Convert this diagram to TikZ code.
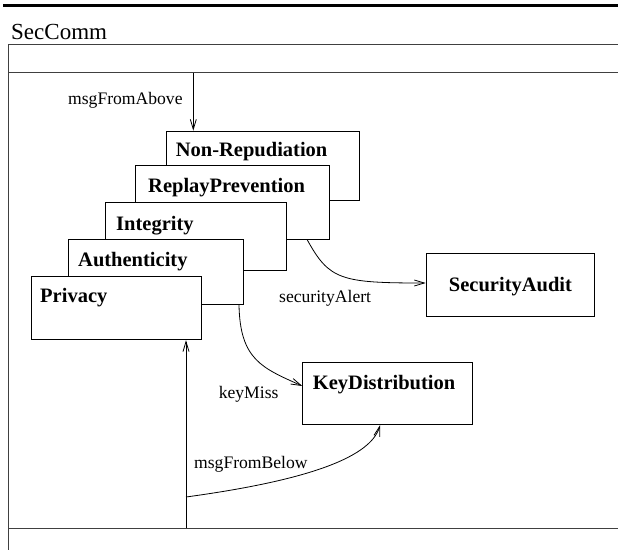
\documentclass[tikz,border=0pt]{standalone}
\usepackage{fontspec}
\setmainfont{Liberation Serif}
\usetikzlibrary{arrows.meta,calc}
\begin{document}
\begin{tikzpicture}[x=1pt,y=-1pt,
  frameline/.style={line width=1.4pt, draw=black!75},
  layerbox/.style={draw=black, line width=0.9pt, fill=white, rectangle,
    inner sep=0pt, anchor=north west},
  boxtitle/.style={font=\bfseries\fontsize{20.5}{24}\selectfont,
    anchor=base west, inner sep=0pt},
  msglabel/.style={font=\fontsize{17.6}{21}\selectfont,
    anchor=base west, inner sep=0pt},
  flow/.style={line width=0.8pt, -{Straight Barb[length=10pt,width=6pt]}}
]
\useasboundingbox (0,0) rectangle (618,550);

% heading rule and package name
\draw[line width=3pt] (3,5.3) -- (618,5.3);
\node[font=\fontsize{23}{27}\selectfont, anchor=base west, inner sep=0pt]
  (pkg) at (11,39.3) {SecComm};

% package frame with its upper and lower compartments
\coordinate (ftl) at (8.3,44.5);
\coordinate (ftr) at (618,44.5);
\coordinate (fbl) at (8.3,550);
\coordinate (ul) at (8.3,72.5);
\coordinate (ur) at (618,72.5);
\coordinate (ll) at (8.3,528.3);
\coordinate (lr) at (618,528.3);
\draw[frameline] (ftr) -- (ftl) -- (fbl);
\draw[frameline] (ul) -- (ur);
\draw[frameline] (ll) -- (lr);

% stacked protocol layers, back to front
\node[layerbox, minimum width=193.3pt, minimum height=69.3pt]
  (nonrep) at (165.7,130.7) {};
\node[boxtitle] (nonrepT) at ($(nonrep.north west)+(10,25.3)$) {Non-Repudiation};

\node[layerbox, minimum width=194pt, minimum height=74pt]
  (replay) at (135,165) {};
\node[boxtitle] (replayT) at ($(replay.north west)+(13,27.7)$) {ReplayPrevention};

\node[layerbox, minimum width=181pt, minimum height=68.3pt]
  (integ) at (105,201.7) {};
\node[boxtitle] (integT) at ($(integ.north west)+(11,28.3)$) {Integrity};

\node[layerbox, minimum width=175pt, minimum height=65pt]
  (auth) at (67.7,239) {};
\node[boxtitle] (authT) at ($(auth.north west)+(10.3,27.7)$) {Authenticity};

\node[layerbox, minimum width=170.6pt, minimum height=63.3pt]
  (priv) at (30.7,276) {};
\node[boxtitle] (privT) at ($(priv.north west)+(9.3,26.7)$) {Privacy};

% side components
\node[layerbox, minimum width=168.6pt, minimum height=62.7pt]
  (audit) at (425.7,253.3) {};
\node[boxtitle, anchor=base] (auditT) at ($(audit.north)+(0,37.7)$) {SecurityAudit};

\node[layerbox, minimum width=169.4pt, minimum height=62.3pt]
  (keydist) at (302.3,362) {};
\node[boxtitle] (keydistT) at ($(keydist.north west)+(10.4,27.3)$) {KeyDistribution};

% message flows
\coordinate (above) at (193.3,72.5);
\draw[flow] (above) -- (above |- nonrep.north);
\node[msglabel] (aboveL) at (68,104) {msgFromAbove};

\coordinate (alertS) at ($(replay.south west)+(172.3,0)$);
\coordinate (alertE) at ($(audit.north west)+(0,29.7)$);
\draw[flow] (alertS) .. controls ($(alertS)+(22,40)$) and ($(alertE)+(-85,0)$) .. (alertE);
\node[msglabel] (alertL) at (279,302) {securityAlert};

\coordinate (missS) at ($(auth.south west)+(171.3,0)$);
\coordinate (missE) at ($(keydist.north west)+(0,24)$);
\draw[flow] (missS) .. controls ($(missS)+(1,55)$) and ($(missE)+(-40,-18)$) .. (missE);
\node[msglabel] (missL) at (218.6,398) {keyMiss};

\coordinate (belowS) at ($(ll)+(177.7,0)$);
\draw[flow] (belowS) -- (belowS |- priv.south);
\coordinate (branch) at ($(belowS)+(0,-31.3)$);
\coordinate (belowE) at ($(keydist.south west)+(77.7,0)$);
\draw[flow] (branch) .. controls ($(branch)+(110,-15)$) and ($(belowE)+(-10,35)$) .. (belowE);
\node[msglabel] (belowL) at (194,468) {msgFromBelow};
\end{tikzpicture}
\end{document}
